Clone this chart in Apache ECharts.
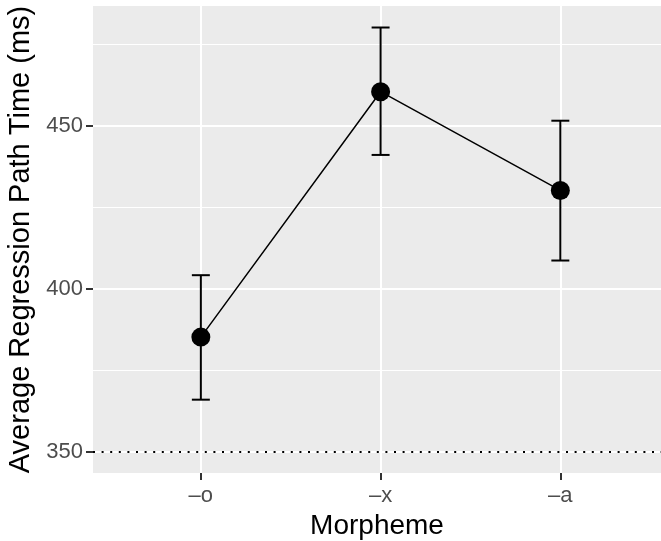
<!DOCTYPE html>
<html>
<head>
<meta charset="utf-8">
<script src="https://cdn.jsdelivr.net/npm/echarts@6/dist/echarts.min.js"></script>
<style>
  html, body { margin: 0; padding: 0; background: #fff; }
  #chart { width: 661px; height: 541px; }
</style>
</head>
<body>
<div id="chart"></div>
<script>
// values
const morphemes = ['–o', '–x', '–a'];
const meanRPT = [385.2, 460.5, 430.2];
const ciLower = [366.0, 441.1, 408.7];
const ciUpper = [404.2, 480.2, 451.6];
const yTicks = [350, 400, 450];
const yMinorTicks = [375, 425, 475];
const referenceLine = 350;

const fontFamily = "'Liberation Sans', Arial, sans-serif";
const catIdx = morphemes.map((m, i) => i);

const chart = echarts.init(document.getElementById('chart'));

const option = {
    animation: false,
    backgroundColor: '#fff',
    grid: {
        left: 93,
        top: 6,
        right: 0,
        height: 467,
        outerBoundsMode: 'none',
        show: true,
        backgroundColor: '#EBEBEB',
        borderWidth: 0
    },
    xAxis: {
        type: 'value',
        min: -0.6,
        max: 2.56,   // panel is cut off at the right edge in the reference
        name: 'Morpheme',
        nameLocation: 'middle',
        nameGap: 38,
        nameTextStyle: { color: '#000', fontSize: 28, fontFamily: fontFamily },
        axisLine: { show: false, onZero: false },
        axisTick: {
            show: true,
            customValues: catIdx,
            length: 7,
            lineStyle: { color: '#333', width: 2 }
        },
        axisLabel: {
            customValues: catIdx,
            formatter: v => morphemes[Math.round(v)],
            color: '#4D4D4D',
            fontSize: 22,
            fontFamily: fontFamily,
            margin: 12
        },
        splitLine: { show: true, lineStyle: { color: '#fff', width: 2 } }
    },
    yAxis: [
        {
            type: 'value',
            min: 343.5,
            max: 486.8,
            name: 'Average Regression Path Time (ms)',
            nameLocation: 'middle',
            nameGap: 52,
            nameTextStyle: { color: '#000', fontSize: 29, fontFamily: fontFamily },
            axisLine: { show: false, onZero: false },
            axisTick: {
                show: true,
                customValues: yTicks,
                length: 7,
                lineStyle: { color: '#333', width: 2 }
            },
            axisLabel: {
                customValues: yTicks,
                color: '#4D4D4D',
                fontSize: 22,
                fontFamily: fontFamily,
                margin: 10
            },
            splitLine: { show: true, lineStyle: { color: '#fff', width: 2 } }
        },
        {
            // only there for the thin minor grid lines
            type: 'value',
            min: 343.5,
            max: 486.8,
            position: 'left',
            axisLine: { show: false, onZero: false },
            axisTick: { show: false, customValues: yMinorTicks },
            axisLabel: { show: false, customValues: yMinorTicks },
            splitLine: { show: true, lineStyle: { color: '#fff', width: 1.1 } }
        }
    ],
    series: [
        {
            type: 'custom',
            name: 'ci',
            z: 2,
            data: catIdx.map(i => [i, ciLower[i], ciUpper[i]]),
            renderItem: function (params, api) {
                const x = api.value(0);
                const lo = api.coord([x, api.value(1)]);
                const hi = api.coord([x, api.value(2)]);
                const capL = api.coord([x - 0.05, api.value(1)])[0];
                const capR = api.coord([x + 0.05, api.value(1)])[0];
                const style = { stroke: '#000', lineWidth: 2 };
                return {
                    type: 'group',
                    children: [
                        { type: 'line', shape: { x1: lo[0], y1: lo[1], x2: hi[0], y2: hi[1] }, style: style },
                        { type: 'line', shape: { x1: capL, y1: lo[1], x2: capR, y2: lo[1] }, style: style },
                        { type: 'line', shape: { x1: capL, y1: hi[1], x2: capR, y2: hi[1] }, style: style }
                    ]
                };
            }
        },
        {
            type: 'line',
            name: 'mean',
            z: 3,
            data: catIdx.map(i => [i, meanRPT[i]]),
            symbol: 'circle',
            symbolSize: 19,
            itemStyle: { color: '#000' },
            lineStyle: { color: '#000', width: 1.5 },
            markLine: {
                silent: true,
                symbol: ['none', 'none'],
                label: { show: false },
                lineStyle: { color: '#000', width: 2, type: [2, 6.6] },
                data: [{ yAxis: referenceLine }]
            }
        }
    ]
};

chart.setOption(option);
</script>
</body>
</html>
